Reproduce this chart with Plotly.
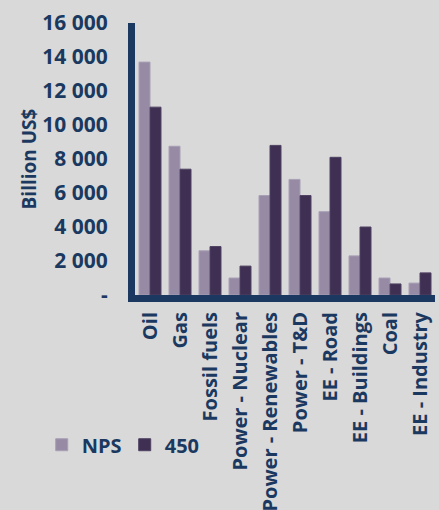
import plotly.graph_objects as go

categories = ["Oil", "Gas", "Fossil fuels", "Power - Nuclear", "Power - Renewables",
              "Power - T&D", "EE - Road", "EE - Buildings", "Coal", "EE - Industry"]
nps = [13700, 8750, 2600, 1000, 5850, 6800, 4900, 2300, 1000, 700]
s450 = [11050, 7400, 2850, 1700, 8800, 5850, 8100, 4000, 650, 1300]
ytickvals = [0, 2000, 4000, 6000, 8000, 10000, 12000, 14000, 16000]
yticktext = ["-", "2 000", "4 000", "6 000", "8 000", "10 000", "12 000", "14 000", "16 000"]

navy = "#1b3960"
font_family = "Open Sans"

fig = go.Figure()
fig.add_trace(go.Bar(name="NPS", x=categories, y=nps,
                     marker=dict(color="#968aa5", line=dict(color="#a89fb5", width=1))))
fig.add_trace(go.Bar(name="450", x=categories, y=s450,
                     marker=dict(color="#3f2f52", line=dict(color="#4f4262", width=1))))

fig.update_layout(
    width=439, height=510,
    margin=dict(l=135, r=4, t=23, b=215, autoexpand=False),
    paper_bgcolor="#d9d9d9", plot_bgcolor="#d9d9d9",
    barmode="group", bargap=0.267, bargroupgap=0,
    font=dict(family=font_family, color=navy, size=18),
    showlegend=True,
    legend=dict(orientation="h", xref="container", yref="container",
                x=0.095, y=0.128, xanchor="left", yanchor="middle",
                font=dict(family=font_family, size=20, color=navy, weight="bold"),
                bgcolor="rgba(0,0,0,0)", itemwidth=30, entrywidth=38,
                traceorder="normal"),
)
fig.update_xaxes(
    type="category", showgrid=False, zeroline=False, automargin=False,
    showline=True, linecolor=navy, linewidth=7,
    tickangle=-90, ticks="",
    tickfont=dict(family=font_family, size=20, color=navy, weight="bold"),
    ticklabelstandoff=2,
)
fig.update_yaxes(
    range=[0, 16000], showgrid=False, zeroline=False, automargin=False,
    showline=True, linecolor=navy, linewidth=7, ticks="",
    tickvals=ytickvals, ticktext=yticktext,
    tickfont=dict(family=font_family, size=21, color=navy, weight="bold"),
    ticklabelstandoff=16,
    title=dict(text="Billion US$", font=dict(family=font_family, size=19, color=navy, weight="bold"),
               standoff=2),
)

fig.write_html("out.html", config={"displayModeBar": False},
               post_script="document.body.style.margin='0';")
